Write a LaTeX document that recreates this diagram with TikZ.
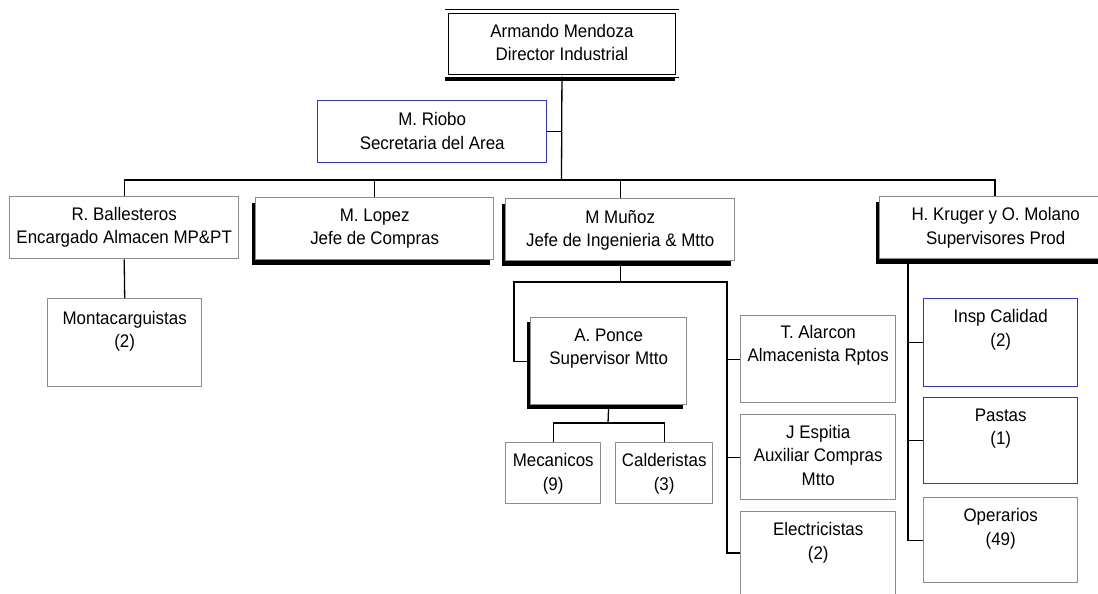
\documentclass[tikz,border=0pt]{standalone}
\usepackage{fontspec}
\setmainfont{Liberation Sans}[FakeStretch=0.93]
\usetikzlibrary{shadows}
\definecolor{bordergray}{RGB}{140,140,140}
\definecolor{borderblue}{RGB}{50,50,210}
\begin{document}
\begin{tikzpicture}[x=1pt,y=-1pt,
  gbox/.style={draw=bordergray, line width=1.4pt, fill=white, inner sep=0pt, anchor=north west},
  bbox/.style={gbox, draw=borderblue},
  shad/.style={drop shadow={shadow xshift=-3.5pt, shadow yshift=-5pt, fill=black, opacity=1}},
  shadp/.style={drop shadow={shadow xshift=-4pt, shadow yshift=-4.5pt, fill=black, opacity=1}},
  txt/.style={anchor=north, inner sep=0pt, align=center, font=\fontsize{18.2}{23.5}\selectfont},
  conn/.style={draw=black, line width=1.3pt}]
\useasboundingbox (0,0) rectangle (1098,594);
\clip (0,0) rectangle (1098,594);
\fill[white] (0,0) rectangle (1098,594);

% boxes
\node[draw=black, fill=white, line width=0.9pt, double=white, double distance=2.5pt, inner sep=0pt, anchor=north west,
      minimum width=230.6pt, minimum height=64.6pt,
      drop shadow={shadow xshift=-2pt, shadow yshift=-5pt, fill=black, opacity=1}] (top) at (446.2,11.2) {};
\node[bbox, minimum width=229pt, minimum height=62pt] (riobo) at (317,100) {};
\node[gbox, minimum width=229pt, minimum height=62pt] (ball) at (9,196) {};
\node[gbox, shad, minimum width=238pt, minimum height=62pt] (lopez) at (255,197) {};
\node[gbox, shad, minimum width=229pt, minimum height=62pt] (munoz) at (505,198) {};
\node[gbox, shad, minimum width=232pt, minimum height=62pt] (kruger) at (879,196) {};
\node[gbox, minimum width=154pt, minimum height=88pt] (monta) at (47,298) {};
\node[gbox, shadp, minimum width=156pt, minimum height=87pt] (ponce) at (530,317) {};
\node[gbox, minimum width=95pt, minimum height=61pt] (mec) at (505,442) {};
\node[gbox, minimum width=97pt, minimum height=61pt] (cal) at (615,442) {};
\node[gbox, minimum width=155pt, minimum height=87pt] (alar) at (740,315) {};
\node[gbox, minimum width=155pt, minimum height=85pt] (esp) at (740,414) {};
\node[gbox, minimum width=155pt, minimum height=100pt] (elec) at (740,511) {};
\node[bbox, minimum width=154pt, minimum height=88pt] (insp) at (923,298) {};
\node[bbox, minimum width=154pt, minimum height=86pt] (past) at (923,397) {};
\node[gbox, minimum width=154pt, minimum height=85pt] (oper) at (923,497) {};

% texts
\node[txt] (topt) at ([yshift=-12.5pt]top.north) {Armando Mendoza\\Director Industrial};
\node[txt] (riobot) at ([yshift=-12.5pt]riobo.north) {M. Riobo\\Secretaria del Area};
\node[txt] (ballt) at ([yshift=-11pt]ball.north) {R. Ballesteros\\Encargado Almacen MP\&PT};
\node[txt] (lopezt) at ([yshift=-11.5pt]lopez.north) {M. Lopez\\Jefe de Compras};
\node[txt] (munozt) at ([yshift=-12pt]munoz.north) {M Muñoz\\Jefe de Ingenieria \& Mtto};
\node[txt] (krugert) at ([yshift=-11.5pt]kruger.north) {H. Kruger y O. Molano\\Supervisores Prod};
\node[txt] (montat) at ([yshift=-13pt]monta.north) {Montacarguistas\\(2)};
\node[txt] (poncet) at ([yshift=-11.5pt]ponce.north) {A. Ponce\\Supervisor Mtto};
\node[txt] (mect) at ([yshift=-11.5pt]mec.north) {Mecanicos\\(9)};
\node[txt] (calt) at ([yshift=-11.5pt]cal.north) {Calderistas\\(3)};
\node[txt] (alart) at ([yshift=-10pt]alar.north) {T. Alarcon\\Almacenista Rptos};
\node[txt] (espt) at ([yshift=-11pt]esp.north) {J Espitia\\Auxiliar Compras\\Mtto};
\node[txt] (elect) at ([yshift=-11.5pt]elec.north) {Electricistas\\(2)};
\node[txt] (inspt) at ([yshift=-11.5pt]insp.north) {Insp Calidad\\(2)};
\node[txt] (pastt) at ([yshift=-11.5pt]past.north) {Pastas\\(1)};
\node[txt] (opert) at ([yshift=-11.5pt]oper.north) {Operarios\\(49)};

% junction coordinates
\coordinate (bar) at (561.5,180);
\coordinate (krc) at (995,180);
\coordinate (ml) at (514,282);
\coordinate (mr) at (727,282);
\coordinate (pb) at (608,423);
\coordinate (kv) at (908,259);

% connectors
\draw[conn] (top.south) -- (bar);
\draw[conn] (riobo.east) -- (riobo.east -| top.south);
\draw[conn] (ball.north) |- (krc) -- (krc |- kruger.north);
\draw[conn] (lopez.north) -- (lopez.north |- bar);
\draw[conn] (munoz.north) -- (munoz.north |- bar);
\draw[conn] (ball.south) -- (monta.north);
\draw[conn] (munoz.south) -- (munoz.south |- ml);
\draw[conn] (ponce.west) -| (ml) -- (mr) |- ([yshift=-42pt]elec.north west);
\draw[conn] (alar.west) -- (alar.west -| mr);
\draw[conn] (esp.west) -- (esp.west -| mr);
\draw[conn] (ponce.south) -- (pb);
\draw[conn] (mec.north) |- (pb) -| (cal.north);
\draw[conn] (kv) |- (oper.west);
\draw[conn] (insp.west) -- (insp.west -| kv);
\draw[conn] (past.west) -- (past.west -| kv);
\end{tikzpicture}
\end{document}
